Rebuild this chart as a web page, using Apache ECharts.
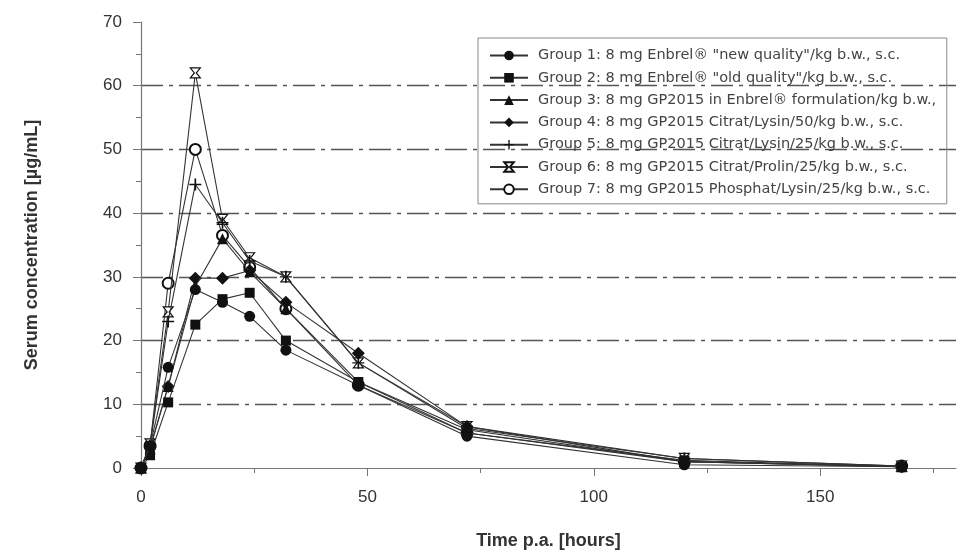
<!DOCTYPE html>
<html>
<head>
<meta charset="utf-8">
<script src="https://cdn.jsdelivr.net/npm/echarts@6/dist/echarts.min.js"></script>
<style>html,body{margin:0;padding:0;background:#fff;}#c{width:962px;height:552px;}</style>
</head>
<body>
<div id="c"></div>
<script>
const times = [0, 2, 6, 12, 18, 24, 32, 48, 72, 120, 168];
const group1 = [0, 3.5, 15.8, 28, 26, 23.8, 18.5, 13, 5, 0.5, 0.2];
const group2 = [0, 2, 10.3, 22.5, 26.5, 27.5, 20, 13.5, 5.5, 1.2, 0.2];
const group3 = [0, 3, 12.8, 28.5, 36, 30.8, 25, 13.5, 6, 1, 0.2];
const group4 = [0, 3.2, 12.8, 29.8, 29.8, 31, 26, 18, 6.5, 1, 0.2];
const group5 = [0, 3.5, 23, 44.5, 38.5, 32.5, 30, 16.5, 6.2, 1.5, 0.3];
const group6 = [0, 3.8, 24.5, 62, 39, 33, 30, 16.5, 6.5, 1.5, 0.3];
const group7 = [0, 3.5, 29, 50, 36.5, 31.5, 25, 13, 5.5, 1, 0.3];
const groupNames = [
  'Group 1: 8 mg Enbrel® "new quality"/kg b.w., s.c.',
  'Group 2: 8 mg Enbrel® "old quality"/kg b.w., s.c.',
  'Group 3: 8 mg GP2015 in Enbrel® formulation/kg b.w., s.c.',
  'Group 4: 8 mg GP2015 Citrat/Lysin/50/kg b.w., s.c.',
  'Group 5: 8 mg GP2015 Citrat/Lysin/25/kg b.w., s.c.',
  'Group 6: 8 mg GP2015 Citrat/Prolin/25/kg b.w., s.c.',
  'Group 7: 8 mg GP2015 Phosphat/Lysin/25/kg b.w., s.c.'
];
const xMajorTicks = [0, 50, 100, 150];
const xMinorTicks = [25, 75, 125, 175];

const groups = [group1, group2, group3, group4, group5, group6, group7];
const symbols = [
  'circle', 'rect', 'triangle', 'diamond',
  'path://M4.3,0 L5.7,0 L5.7,10 L4.3,10 Z M0,4.4 L10,4.4 L10,5.6 L0,5.6 Z',
  'path://M0,0 L10,0 L6,5 L10,10 L0,10 L4,5 Z',
  'emptyCircle'
];
const sizes = [11, 10, 11, 13, 12, 10, 11];

const series = groups.map((g, i) => ({
  name: groupNames[i],
  type: 'line',
  data: times.map((t, j) => [t, g[j]]),
  symbol: symbols[i],
  symbolSize: sizes[i],
  lineStyle: { color: '#333', width: 1.1 },
  itemStyle: i === 5
    ? { color: '#fff', borderColor: '#111', borderWidth: 1.2 }
    : (i === 6 ? { color: '#111', borderWidth: 1.5 } : { color: '#111' }),
  emphasis: { disabled: true },
  animation: false,
  z: 10 - i
}));

const chart = echarts.init(document.getElementById('c'), null, { renderer: 'canvas' });
chart.setOption({
  backgroundColor: '#fff',
  animation: false,
  grid: { left: 141, right: 6, top: 22, bottom: 84, containLabel: false, outerBoundsMode: 'none' },
  legend: {
    orient: 'vertical',
    left: 478, top: 38,
    padding: [10, 6, 7, 11],
    itemGap: 7.3,
    itemWidth: 38, itemHeight: 12,
    borderColor: '#888', borderWidth: 1,
    textStyle: { color: '#444', fontSize: 14.5, fontFamily: 'DejaVu Sans, sans-serif', padding: [0, 0, 0, 5], width: 408, overflow: 'truncate', ellipsis: '' },
    data: groupNames
  },
  xAxis: [{
    type: 'value', min: 0, max: 180,
    name: 'Time p.a. [hours]', nameLocation: 'middle', nameGap: 64,
    nameTextStyle: { fontSize: 18, fontWeight: 'bold', color: '#333', fontFamily: 'Liberation Sans, Arial, sans-serif' },
    axisLine: { show: true, lineStyle: { color: '#777', width: 1.2 } },
    axisTick: { show: true, length: 8, customValues: xMajorTicks, lineStyle: { color: '#777' } },
    axisLabel: { customValues: xMajorTicks, fontSize: 17, color: '#333', margin: 21, fontFamily: 'Liberation Sans, Arial, sans-serif' },
    splitLine: { show: false }
  }, {
    type: 'value', min: 0, max: 180, position: 'bottom',
    axisLine: { show: false },
    axisTick: { show: true, length: 5, customValues: xMinorTicks, lineStyle: { color: '#777' } },
    axisLabel: { show: false },
    splitLine: { show: false }
  }],
  yAxis: {
    type: 'value', min: 0, max: 70, interval: 10,
    name: 'Serum concentration [µg/mL]', nameLocation: 'middle', nameGap: 100,
    nameTextStyle: { fontSize: 18, fontWeight: 'bold', color: '#333', fontFamily: 'Liberation Sans, Arial, sans-serif' },
    axisLine: { show: true, lineStyle: { color: '#777', width: 1.2 } },
    axisTick: { show: true, length: 8, lineStyle: { color: '#777' } },
    minorTick: { show: true, splitNumber: 2, length: 5, lineStyle: { color: '#777' } },
    axisLabel: { fontSize: 17, color: '#333', margin: 19, fontFamily: 'Liberation Sans, Arial, sans-serif' },
    splitLine: { show: true, showMinLine: false, showMaxLine: false, lineStyle: { color: '#555', width: 1.3, type: [22, 6, 4, 6] } }
  },
  series: series
});
</script>
</body>
</html>
